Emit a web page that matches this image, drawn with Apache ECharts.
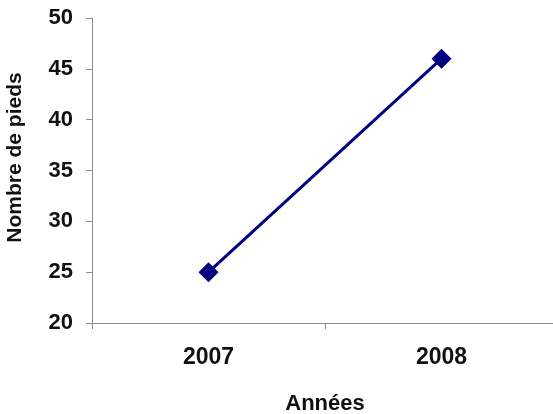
<!DOCTYPE html>
<html>
<head>
<meta charset="utf-8">
<script src="https://cdn.jsdelivr.net/npm/echarts@6/dist/echarts.min.js"></script>
<style>
  html, body { margin: 0; padding: 0; background: #fff; }
  #chart { width: 553px; height: 414px; }
</style>
</head>
<body>
<div id="chart"></div>
<script>
const years = ['2007', '2008'];
const pieds = [25, 46];

const font = '"Liberation Sans", Arial, sans-serif';
const axisColor = '#8c8c8c';

const chart = echarts.init(document.getElementById('chart'));
chart.setOption({
  animation: false,
  grid: { left: 92, top: 18, width: 466, height: 305, outerBoundsMode: 'none' },
  xAxis: {
    type: 'category',
    data: years,
    boundaryGap: true,
    name: 'Années',
    nameLocation: 'middle',
    nameGap: 70,
    nameTextStyle: { fontFamily: font, fontWeight: 'bold', fontSize: 22, color: '#111' },
    axisLine: { lineStyle: { color: axisColor, width: 1 } },
    axisTick: { show: true, length: 6, lineStyle: { color: axisColor } },
    axisLabel: { margin: 23, fontFamily: font, fontWeight: 'bold', fontSize: 23, color: '#111' },
    splitLine: { show: false }
  },
  yAxis: {
    type: 'value',
    min: 20,
    max: 50,
    interval: 5,
    name: 'Nombre de pieds',
    nameLocation: 'middle',
    nameGap: 66,
    nameTextStyle: { fontFamily: font, fontWeight: 'bold', fontSize: 21, color: '#111', padding: [0, 0, 0, 26] },
    axisLine: { show: true, lineStyle: { color: axisColor, width: 1 } },
    axisTick: { show: true, length: 6, lineStyle: { color: axisColor } },
    axisLabel: { margin: 19, fontFamily: font, fontWeight: 'bold', fontSize: 22, color: '#111' },
    splitLine: { show: false }
  },
  series: [{
    type: 'line',
    data: pieds,
    symbol: 'diamond',
    symbolSize: 20,
    lineStyle: { color: '#000080', width: 3 },
    itemStyle: { color: '#000080' }
  }]
});
</script>
</body>
</html>
